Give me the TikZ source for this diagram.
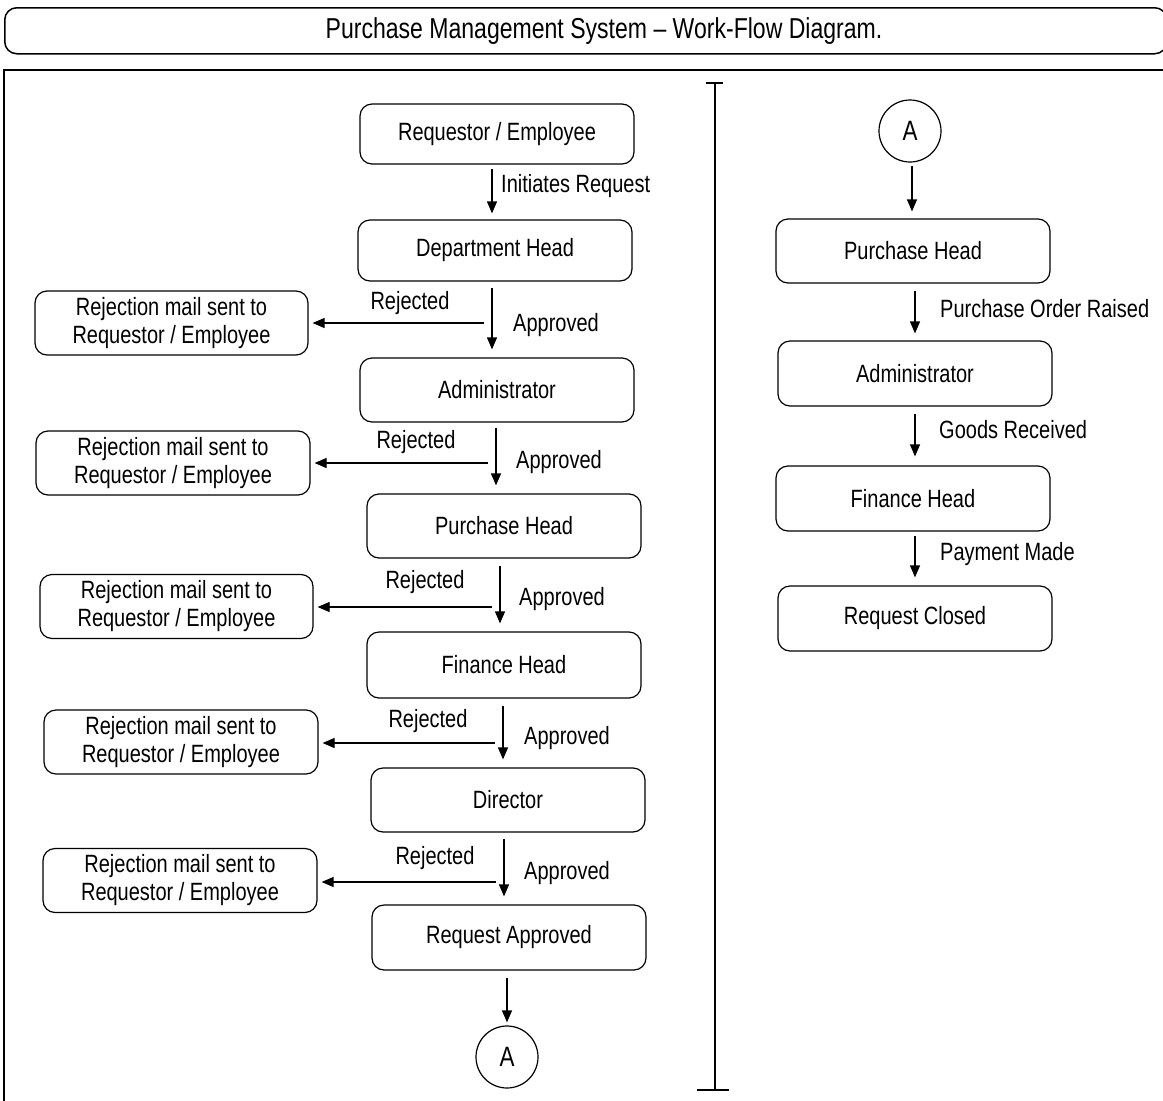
\documentclass[tikz,border=0pt]{standalone}
\usepackage{fontspec}
\setmainfont{Liberation Sans}[FakeStretch=0.8]
\usetikzlibrary{arrows.meta}
\begin{document}
\begin{tikzpicture}[x=1pt,y=-1pt,
  box/.style={draw, line width=1.2pt, rounded corners=12pt, minimum width=274pt, minimum height=64pt, align=center, inner sep=0pt, font=\fontsize{25}{28}\selectfont},
  conn/.style={draw, circle, line width=1.2pt, minimum size=62pt, inner sep=0pt, font=\fontsize{28}{30}\selectfont},
  lbl/.style={font=\fontsize{25}{28}\selectfont, inner sep=0pt},
  arr/.style={line width=1.2pt, -{Triangle[width=10pt,length=12pt]}}]
\useasboundingbox (0,0) rectangle (1163,1101);
\begin{scope}
\clip (0,0) rectangle (1163,1101);
\node[draw, line width=1.5pt, rounded corners=12pt, minimum width=1162pt, minimum height=46pt, inner sep=0pt, anchor=north west] (title) at (4,7) {};
\node[lbl, font=\fontsize{28.8}{32}\selectfont] (ttext) at (604,31) {Purchase Management System – Work-Flow Diagram.};
\draw[line width=1.8pt] (4,1110) -- (4,70) -- (1170,70);
\end{scope}
% divider
\coordinate (dt) at (715,83);
\coordinate (db) at (715,1090);
\draw[line width=1.5pt] (dt) -- (db);
\draw[line width=1.5pt] (706,83) -- (723,83);
\draw[line width=1.5pt] (697,1090) -- (729,1090);
% left column
\node[box, minimum height=60pt] (req) at (497,134) {Requestor / Employee};
\node[box, minimum height=61pt] (dept) at (495,250.5) {Department Head};
\node[box] (admin) at (497,390) {Administrator};
\node[box] (ph) at (504,526) {Purchase Head};
\node[box, minimum height=66pt] (fh) at (504,665) {Finance Head};
\node[box] (dir) at (508,800) {Director};
\node[box, minimum height=65pt] (ra) at (509,937.5) {Request Approved};
\node[conn] (a1) at (507,1057) {A};
% rejection boxes
\node[box, minimum width=273pt] (rej1) at (171.5,323) {Rejection mail sent to\\Requestor / Employee};
\node[box] (rej2) at (173,463) {Rejection mail sent to\\Requestor / Employee};
\node[box, minimum width=273pt] (rej3) at (176.5,606.5) {Rejection mail sent to\\Requestor / Employee};
\node[box] (rej4) at (181,742) {Rejection mail sent to\\Requestor / Employee};
\node[box] (rej5) at (180,880.5) {Rejection mail sent to\\Requestor / Employee};
% main arrows
\draw[arr] (req.south -| 492,0) ++(0,4) -- ([yshift=6pt]dept.north -| 492,0);
\draw[arr] (dept.south -| 492,0) ++(0,6) -- ([yshift=8pt]admin.north -| 492,0);
\draw[arr] (admin.south -| 496,0) ++(0,5) -- ([yshift=8pt]ph.north -| 496,0);
\draw[arr] (ph.south -| 500,0) ++(0,7) -- ([yshift=8pt]fh.north -| 500,0);
\draw[arr] (fh.south -| 503,0) ++(0,7) -- ([yshift=8pt]dir.north -| 503,0);
\draw[arr] (dir.south -| 504,0) ++(0,6) -- ([yshift=8pt]ra.north -| 504,0);
\draw[arr] (ra.south -| 507,0) ++(0,7) -- ([yshift=3pt]a1.north);
% rejection arrows
\coordinate (j1) at (484,323);
\coordinate (j2) at (488,463);
\coordinate (j3) at (492,607);
\coordinate (j4) at (495,743);
\coordinate (j5) at (496,882);
\draw[arr] (j1) -- ([xshift=4pt]rej1.east);
\draw[arr] (j2) -- ([xshift=4pt]rej2.east);
\draw[arr] (j3) -- ([xshift=4pt]rej3.east |- j3);
\draw[arr] (j4) -- ([xshift=4pt]rej4.east |- j4);
\draw[arr] (j5) -- ([xshift=4pt]rej5.east |- j5);
% labels
\node[lbl, anchor=west] (l0) at (501,186) {Initiates Request};
\node[lbl] (r1) at (410,303) {Rejected};
\node[lbl] (p1) at (556,325) {Approved};
\node[lbl] (r2) at (416,442) {Rejected};
\node[lbl] (p2) at (559,462) {Approved};
\node[lbl] (r3) at (425,582) {Rejected};
\node[lbl] (p3) at (562,599) {Approved};
\node[lbl] (r4) at (428,721) {Rejected};
\node[lbl] (p4) at (567,738) {Approved};
\node[lbl] (r5) at (435,858) {Rejected};
\node[lbl] (p5) at (567,873) {Approved};
% right column
\node[conn] (a2) at (910,131) {A};
\node[box] (rph) at (913,251) {Purchase Head};
\node[box, minimum height=65pt] (radm) at (915,373.5) {Administrator};
\node[box, minimum height=65pt] (rfh) at (913,498.5) {Finance Head};
\node[box, minimum height=65pt] (rrc) at (915,618.5) {Request Closed};
\draw[arr] ([yshift=-3pt]a2.south -| 912,0) -- ([yshift=7pt]rph.north -| 912,0);
\draw[arr] (rph.south -| 915,0) ++(0,7) -- ([yshift=7pt]radm.north -| 915,0);
\draw[arr] (radm.south -| 915,0) ++(0,7) -- ([yshift=9pt]rfh.north -| 915,0);
\draw[arr] (rfh.south -| 915,0) ++(0,4) -- ([yshift=8pt]rrc.north -| 915,0);
\node[lbl, anchor=west] (l1) at (940,309) {Purchase Order Raised};
\node[lbl, anchor=west] (l2) at (939,430) {Goods Received};
\node[lbl, anchor=west] (l3) at (940,554) {Payment Made};
\end{tikzpicture}
\end{document}
